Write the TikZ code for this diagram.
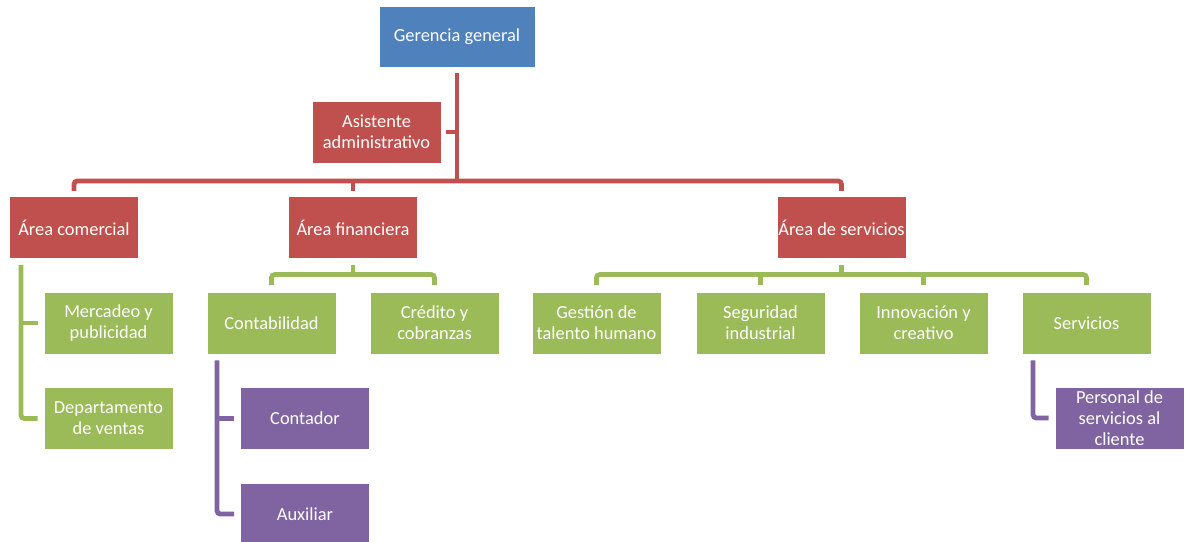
\documentclass[tikz,border=0pt]{standalone}
\usepackage{fontspec}
\setmainfont{Carlito}
\definecolor{cblue}{HTML}{4F81BD}
\definecolor{cred}{HTML}{C0504D}
\definecolor{cgreen}{HTML}{9BBB59}
\definecolor{cpurple}{HTML}{8064A2}
\begin{document}
\begin{tikzpicture}[x=0.75pt,y=-0.75pt,
  box/.style={draw=white, line width=0.4pt, inner sep=0pt, minimum width=96.75pt,
    minimum height=46.5pt, align=center, text=white, font=\fontsize{13.8}{15.8}\selectfont},
  bbox/.style={box, fill=cblue, minimum width=117pt, minimum height=45.75pt},
  rbox/.style={box, fill=cred},
  gbox/.style={box, fill=cgreen},
  pbox/.style={box, fill=cpurple},
  conn/.style={line width=3.6pt, rounded corners=2.5pt},
  rl/.style={conn, draw=cred},
  gl/.style={conn, draw=cgreen},
  pl/.style={conn, draw=cpurple}]
\useasboundingbox (0,0) rectangle (1185,542);

\node[bbox] (ger) at (457,36.5) {Gerencia general};
\node[rbox] (asi) at (376.5,132) {Asistente\\administrativo};
\node[rbox] (com) at (74,227.5) {Área comercial};
\node[rbox] (fin) at (353,227.5) {Área financiera};
\node[rbox] (ser) at (841.5,227.5) {Área de servicios};

\node[gbox] (mer) at (108.5,323) {Mercadeo y\\publicidad};
\node[gbox] (dep) at (108.5,418.5) {Departamento\\de ventas};
\node[gbox] (cnt) at (271.5,323) {Contabilidad};
\node[gbox] (cre) at (434.5,323) {Crédito y\\cobranzas};
\node[gbox] (ges) at (596.5,323) {Gestión de\\talento humano};
\node[gbox] (seg) at (760.5,323) {Seguridad\\industrial};
\node[gbox] (inn) at (923.5,323) {Innovación y\\creativo};
\node[gbox] (sv) at (1086.5,323) {Servicios};

\node[pbox] (ctd) at (305,418.5) {Contador};
\node[pbox] (aux) at (305,514) {Auxiliar};
\node[pbox] (per) at (1119.5,418) {Personal de\\servicios al\\cliente};

\coordinate (rb) at (0,181);
\coordinate (gb) at (0,274.5);
\coordinate (cl) at (21,0);
\coordinate (pc) at (217,0);
\coordinate (ps) at (1033,0);

% red connectors
\draw[rl, shorten <=4.5pt] (ger.south) -- (ger.south |- rb);
\draw[rl, shorten <=3.75pt] (asi.east) -- (asi.east -| ger.south);
\draw[rl, shorten <=4pt, shorten >=4pt] (com.north) |- (ser.north |- rb) -- (ser.north);
\draw[rl, shorten >=4pt] (fin.north |- rb) -- (fin.north);

% green connectors
\draw[gl, shorten <=4.5pt] (fin.south) -- (fin.south |- gb);
\draw[gl, shorten <=5pt, shorten >=5pt] (cnt.north) |- (cre.north |- gb) -- (cre.north);
\draw[gl, shorten <=4.5pt] (ser.south) -- (ser.south |- gb);
\draw[gl, shorten <=5pt, shorten >=5pt] (ges.north) |- (sv.north |- gb) -- (sv.north);
\draw[gl, shorten >=5pt] (seg.north |- gb) -- (seg.north);
\draw[gl, shorten >=5pt] (inn.north |- gb) -- (inn.north);
\draw[gl, shorten <=4.5pt, shorten >=4.5pt] (cl |- com.south) |- (dep.west);
\draw[gl, shorten >=4.5pt] (cl |- mer.west) -- (mer.west);

% purple connectors
\draw[pl, shorten <=4.5pt, shorten >=4.5pt] (pc |- cnt.south) |- (aux.west);
\draw[pl, shorten >=4.5pt] (pc |- ctd.west) -- (ctd.west);
\draw[pl, shorten <=4.5pt, shorten >=4.5pt] (ps |- sv.south) |- (per.west);
\end{tikzpicture}
\end{document}
